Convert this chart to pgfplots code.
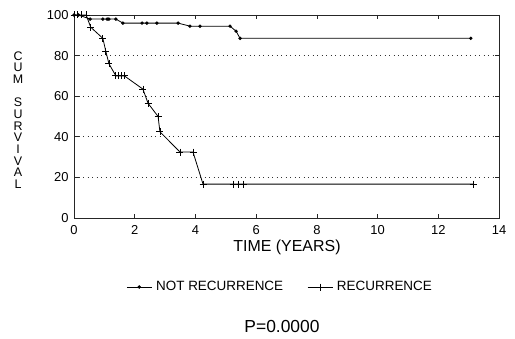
\documentclass[border=0pt]{standalone}
\usepackage{fontspec}
\setmainfont{Liberation Sans}
\usepackage{pgfplots}
\pgfplotsset{compat=1.18}
\begin{document}
\begin{tikzpicture}[x=1bp,y=1bp]
\path[use as bounding box] (0,0) rectangle (515,338);
\begin{axis}[
  at={(74bp,120bp)}, anchor=south west,
  scale only axis, width=425bp, height=203bp,
  xmin=0, xmax=14, ymin=0, ymax=100,
  xtick={0,2,...,14}, ytick={0,20,...,100},
  tick align=inside, major tick length=4.5bp,
  axis line style={line width=0.8bp, black!85},
  tick style={line width=0.7bp, black!85},
  ymajorgrids, grid style={black!80, line width=0.9bp, dash pattern=on 0.9bp off 3.6bp},
  /pgf/number format/assume math mode=true,
  ticklabel style={font=\fontsize{13}{14}\selectfont},
  xticklabel style={yshift=-4bp},
  yticklabel style={xshift=-2bp},
  legend columns=2,
  legend style={draw=none, fill=none, at={(0.485,-0.34)}, anchor=center,
    font=\fontsize{13.5}{15}\selectfont, column sep=2bp,
    /tikz/every even column/.append style={column sep=22bp}},
  legend image code/.code={\draw[mark repeat=2,mark phase=2,#1] plot coordinates {(0bp,0bp) (12.5bp,0bp) (25bp,0bp)};},
]
\addplot[black, line width=0.8bp, mark=*, mark size=1.3bp] coordinates {
(0,100) (0.15,100) (0.53,98) (0.95,98) (1.09,98) (1.15,98) (1.38,98)
(1.61,96) (2.24,96) (2.4,96) (2.73,96) (3.43,96)
(3.82,94.5) (4.15,94.5) (5.14,94.5) (5.34,92) (5.47,88.5) (13.07,88.5)
};
\addlegendentry{NOT RECURRENCE}
\addplot[black, line width=0.8bp, mark=+, mark size=3.5bp, mark options={line width=0.8bp}] coordinates {
(0,100) (0.1,100) (0.25,100) (0.4,100) (0.55,94) (0.95,88.5) (1.05,82) (1.15,76)
(1.38,70) (1.47,70) (1.56,70) (1.66,70) (2.27,63.5) (2.44,56.5) (2.77,50) (2.83,42.5)
(3.49,32.5) (3.92,32.5) (4.25,16.7) (5.24,16.7) (5.4,16.7) (5.57,16.7) (13.15,16.7)
};
\addlegendentry{RECURRENCE}
\end{axis}
\node at (287bp,338bp-247bp) {\fontsize{16}{18}\selectfont TIME (YEARS)};
\node at (282bp,338bp-326bp) {\fontsize{17.5}{20}\selectfont P=0.0000};
\node[align=center, font=\fontsize{12.5}{11.7}\selectfont, inner sep=0] at (18bp,338bp-120bp)
 {C\\U\\M\\[11.7bp]S\\U\\R\\V\\I\\V\\A\\L};
\end{tikzpicture}
\end{document}
